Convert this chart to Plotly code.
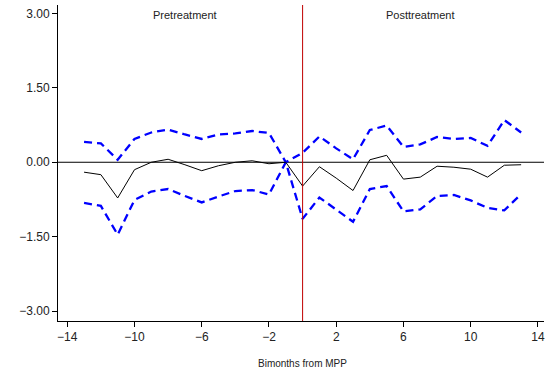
import plotly.graph_objects as go

bimonths = list(range(-13, 14))
estimate = [-0.20, -0.25, -0.72, -0.15, 0.00, 0.06, -0.05, -0.17, -0.07, 0.00, 0.03, -0.03, 0.0,
            -0.48, -0.09, -0.32, -0.57, 0.05, 0.14, -0.34, -0.30, -0.08, -0.10, -0.14, -0.30, -0.06, -0.05]
upper_ci = [0.41, 0.38, 0.05, 0.47, 0.60, 0.66, 0.56, 0.47, 0.56, 0.58, 0.63, 0.59, 0.0,
            0.19, 0.52, 0.28, 0.06, 0.65, 0.74, 0.31, 0.36, 0.51, 0.47, 0.49, 0.33, 0.85, 0.60]
lower_ci = [-0.82, -0.88, -1.46, -0.76, -0.59, -0.54, -0.68, -0.81, -0.69, -0.58, -0.56, -0.65, 0.0,
            -1.14, -0.71, -0.96, -1.20, -0.54, -0.48, -0.99, -0.95, -0.68, -0.66, -0.77, -0.92, -0.97, -0.64]
x_ticks = [-14, -10, -6, -2, 2, 6, 10, 14]
y_ticks = [-3.0, -1.5, 0.0, 1.5, 3.0]

fig = go.Figure()
fig.add_trace(go.Scatter(x=bimonths, y=upper_ci, mode="lines",
                         line=dict(color="#0000ff", width=2.3, dash="8px,5px"), showlegend=False))
fig.add_trace(go.Scatter(x=bimonths, y=lower_ci, mode="lines",
                         line=dict(color="#0000ff", width=2.3, dash="8px,5px"), showlegend=False))
fig.add_trace(go.Scatter(x=bimonths, y=estimate, mode="lines",
                         line=dict(color="black", width=1), showlegend=False))

fig.add_shape(type="line", xref="paper", yref="y", x0=0, x1=1, y0=0, y1=0,
              line=dict(color="black", width=1), layer="below")
fig.add_shape(type="line", xref="x", yref="paper", x0=0, x1=0, y0=0, y1=1,
              line=dict(color="#c00000", width=1))

fig.add_annotation(x=-7, y=2.97, text="Pretreatment", showarrow=False,
                   font=dict(size=11, color="#222"))
fig.add_annotation(x=7, y=2.97, text="Posttreatment", showarrow=False,
                   font=dict(size=11, color="#222"))
fig.add_annotation(x=0, xref="x", y=0, yref="paper", yshift=-42, yanchor="middle",
                   text="Bimonths from MPP", showarrow=False,
                   font=dict(size=10, color="#222"))

fig.update_layout(
    width=546, height=372,
    margin=dict(l=58, r=2, t=5, b=51, autoexpand=False),
    paper_bgcolor="white", plot_bgcolor="white",
    font=dict(family="Liberation Sans, Arial, sans-serif", color="#222"),
    xaxis=dict(range=[-14.55, 14.36], tickvals=x_ticks, showgrid=False, zeroline=False,
               showline=True, linecolor="black", linewidth=1, ticks="outside", ticklen=5,
               tickcolor="black", tickfont=dict(size=12), automargin=False),
    yaxis=dict(range=[-3.2, 3.17], tickvals=y_ticks, tickformat=".2f", showgrid=False,
               zeroline=False, showline=True, linecolor="black", linewidth=1,
               ticks="outside", ticklen=5, tickcolor="black", tickfont=dict(size=12),
               automargin=False),
)

fig.write_html("out.html", config={"displayModeBar": False},
               post_script="document.body.style.margin='0';")
